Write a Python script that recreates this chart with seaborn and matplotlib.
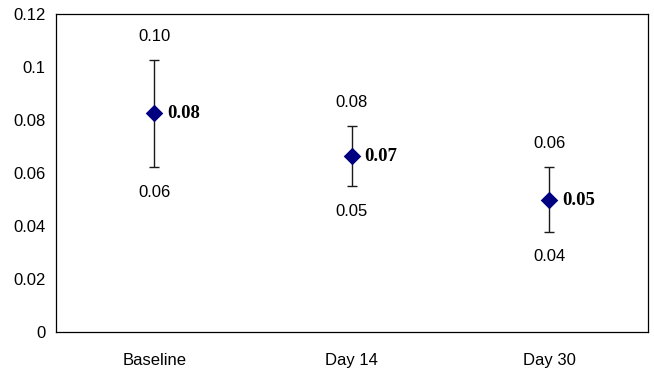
import numpy as np
import pandas as pd
import matplotlib
matplotlib.use("Agg")
import matplotlib.pyplot as plt
import seaborn as sns

# values
timepoints = ["Baseline", "Day 14", "Day 30"]
means = [0.0826, 0.0665, 0.0499]
upper = [0.1027, 0.0777, 0.0623]
lower = [0.0623, 0.0552, 0.0379]
mean_labels = ["0.08", "0.07", "0.05"]
upper_labels = ["0.10", "0.08", "0.06"]
lower_labels = ["0.06", "0.05", "0.04"]

df = pd.DataFrame({"time": timepoints, "mean": means, "upper": upper, "lower": lower})
df["x"] = np.arange(len(df))

sns.set_style("white")
plt.rcParams["font.family"] = ["Liberation Sans", "DejaVu Sans"]
plt.rcParams["text.color"] = "black"
plt.rcParams["xtick.color"] = "black"
plt.rcParams["ytick.color"] = "black"

fig = plt.figure(figsize=(6.54, 3.77), dpi=100)
ax = fig.add_axes([0.085, 0.1186, 0.906, 0.8434])

# error bars (low/high range around the mean)
yerr = np.vstack([df["mean"] - df["lower"], df["upper"] - df["mean"]])
ax.errorbar(df["x"], df["mean"], yerr=yerr, fmt="none", ecolor="#1a1a1a",
            elinewidth=1, capsize=3.5, capthick=1, zorder=2)

sns.scatterplot(data=df, x="x", y="mean", marker="D", s=80, color="#000080",
                edgecolor="#000080", linewidth=0, ax=ax, zorder=3, legend=False)

for i, row in df.iterrows():
    ax.annotate(upper_labels[i], (row["x"], row["upper"]), xytext=(0, 17),
                textcoords="offset points", ha="center", va="center", fontsize=12)
    ax.annotate(lower_labels[i], (row["x"], row["lower"]), xytext=(0, -18),
                textcoords="offset points", ha="center", va="center", fontsize=12)
    ax.annotate(mean_labels[i], (row["x"], row["mean"]), xytext=(9, 0),
                textcoords="offset points", ha="left", va="center", fontsize=13.5,
                fontweight="bold", family=["Liberation Serif", "DejaVu Serif"])

ax.set_ylim(0, 0.12)
ax.set_yticks([0, 0.02, 0.04, 0.06, 0.08, 0.1, 0.12])
ax.set_yticklabels(["0", "0.02", "0.04", "0.06", "0.08", "0.1", "0.12"], fontsize=12)
ax.set_xlim(-0.5, len(df) - 0.5)
ax.set_xticks(np.arange(-0.5, len(df), 1.0))
ax.set_xticklabels([])
ax.set_xticks(df["x"], minor=True)
ax.set_xticklabels(timepoints, minor=True, fontsize=12)
ax.tick_params(axis="x", which="minor", length=0, pad=15)
ax.tick_params(axis="x", which="major", direction="out", length=4.5, width=0.8, color="black")
ax.tick_params(axis="y", direction="out", length=4, width=0.8, color="black", pad=3)
ax.set_xlabel("")
ax.set_ylabel("")

for side in ["left", "right", "top", "bottom"]:
    ax.spines[side].set_visible(True)
    ax.spines[side].set_color("black")
    ax.spines[side].set_linewidth(0.9)

fig.savefig("out.png", dpi=100, facecolor="white")
